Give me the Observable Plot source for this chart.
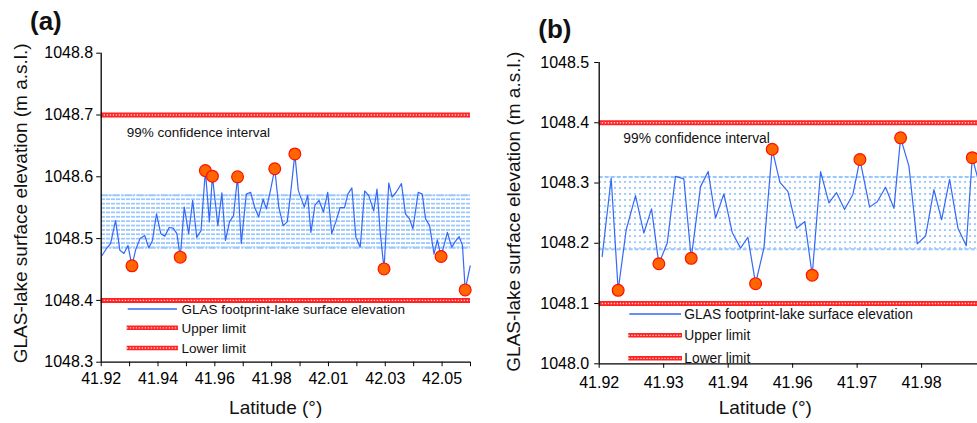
<!DOCTYPE html>
<html><head><meta charset="utf-8">
<script src="https://cdn.jsdelivr.net/npm/d3@7"></script>
<script src="https://cdn.jsdelivr.net/npm/@observablehq/plot@0.6"></script>
<style>
html,body{margin:0;padding:0;background:#fff;}
body{width:977px;height:423px;overflow:hidden;position:relative;font-family:"Liberation Sans",Arial,sans-serif;}
.panel{position:absolute;top:0;height:423px;overflow:hidden;}
.panel svg{display:block;max-width:none;}
</style></head><body>
<div id="pa" class="panel" style="left:0;width:490px"></div>
<div id="pb" class="panel" style="left:490px;width:487px"></div>
<script>
// ---------- Panel (a) data ----------
const latA = [41.92038, 41.92202, 41.92354, 41.92544, 41.92708, 41.9286, 41.93012, 41.93164, 41.93305, 41.93469,
  41.93648, 41.938, 41.9394, 41.94093, 41.94256, 41.94409, 41.94572, 41.94724, 41.94865, 41.94991,
  41.95143, 41.9531, 41.95463, 41.95615, 41.95778, 41.95942, 41.96094, 41.96208, 41.96414, 41.96566,
  41.96703, 41.96855, 41.97007, 41.9716, 41.973, 41.97491, 41.97654, 41.97806, 41.97959, 41.98126,
  41.98252, 41.98415, 41.98567, 41.9872, 41.98887, 41.99039, 41.99165, 41.99328, 41.99458, 41.99686,
  41.99812, 41.99937, 42.00089, 42.00242, 42.00409, 42.00573, 42.00725, 42.00877, 42.01041, 42.01208,
  42.01334, 42.01486, 42.01638, 42.01802, 42.01969, 42.02121, 42.02312, 42.02437, 42.02563, 42.02703,
  42.02882, 42.03008, 42.0316, 42.03362, 42.03514, 42.03666, 42.03796, 42.03997, 42.04149, 42.04275,
  42.04427, 42.04595, 42.0472, 42.04861, 42.05101, 42.05264, 42.05394, 42.05546, 42.05671, 42.05774, 42.05964];
const elevA = [1048.473, 1048.484, 1048.492, 1048.529, 1048.481, 1048.476, 1048.489, 1048.456, 1048.482, 1048.5,
  1048.505, 1048.485, 1048.497, 1048.54, 1048.508, 1048.504, 1048.518, 1048.517, 1048.508, 1048.47,
  1048.551, 1048.508, 1048.562, 1048.502, 1048.513, 1048.61, 1048.527, 1048.601, 1048.521, 1048.574,
  1048.497, 1048.527, 1048.537, 1048.6, 1048.492, 1048.572, 1048.575, 1048.551, 1048.535, 1048.564,
  1048.548, 1048.58, 1048.613, 1048.551, 1048.521, 1048.527, 1048.572, 1048.637, 1048.578, 1048.551,
  1048.57, 1048.51, 1048.554, 1048.562, 1048.543, 1048.575, 1048.508, 1048.527, 1048.55, 1048.55,
  1048.572, 1048.582, 1048.502, 1048.486, 1048.577, 1048.57, 1048.545, 1048.58, 1048.508, 1048.451,
  1048.59, 1048.567, 1048.575, 1048.589, 1048.54, 1048.532, 1048.516, 1048.575, 1048.572, 1048.532,
  1048.521, 1048.475, 1048.498, 1048.471, 1048.51, 1048.486, 1048.495, 1048.503, 1048.489, 1048.417, 1048.456];
const outIdxA = [7, 19, 25, 27, 33, 42, 47, 69, 83, 89];
const limitsA = [1048.4, 1048.7];
const bandA = [1048.485, 1048.57];
const xDomainA = [41.92, 42.05975];
const yDomainA = [1048.3, 1048.8];
const xTicksA = [41.92, 41.9415, 41.963, 41.9845, 42.006, 42.0275, 42.049];
const xTickLabelsA = ["41.92", "41.94", "41.96", "41.98", "42.01", "42.03", "42.05"];
const xMinorA = [41.93075, 41.95225, 41.97375, 41.99525, 42.01675, 42.03825, 42.05975];
const yTicksA = [1048.3, 1048.4, 1048.5, 1048.6, 1048.7, 1048.8];

// ---------- Panel (b) data ----------
const latB = [41.92055, 41.92223, 41.92353, 41.92502, 41.92676, 41.92831, 41.92974, 41.9311, 41.93265, 41.9342,
  41.93575, 41.93712, 41.93886, 41.94028, 41.94165, 41.9432, 41.94475, 41.9463, 41.94767, 41.9491,
  41.95065, 41.9522, 41.95363, 41.95511, 41.95673, 41.95828, 41.95964, 41.9612, 41.96275, 41.96417,
  41.96566, 41.96721, 41.96852, 41.97032, 41.97174, 41.97329, 41.97485, 41.97609, 41.97764, 41.97919,
  41.98074, 41.98229, 41.98372, 41.98521, 41.98676, 41.98831, 41.98943, 41.99036];
const elevB = [1048.178, 1048.308, 1048.122, 1048.222, 1048.279, 1048.217, 1048.257, 1048.166, 1048.2, 1048.311,
  1048.307, 1048.175, 1048.294, 1048.319, 1048.242, 1048.282, 1048.218, 1048.192, 1048.21, 1048.133,
  1048.192, 1048.356, 1048.301, 1048.286, 1048.225, 1048.236, 1048.147, 1048.319, 1048.267, 1048.284,
  1048.256, 1048.281, 1048.339, 1048.26, 1048.269, 1048.293, 1048.258, 1048.375, 1048.328, 1048.199,
  1048.212, 1048.289, 1048.239, 1048.306, 1048.225, 1048.196, 1048.342, 1048.311];
const outIdxB = [2, 7, 11, 19, 21, 26, 32, 37, 46];
const limitsB = [1048.1, 1048.4];
const bandB = [1048.19, 1048.31];
const xDomainB = [41.92, 41.9904];
const yDomainB = [1048.0, 1048.5];
const xTicksB = [41.92, 41.932, 41.944, 41.956, 41.968, 41.98];
const xTickLabelsB = ["41.92", "41.93", "41.94", "41.96", "41.97", "41.98"];
const yTicksB = [1048.0, 1048.1, 1048.2, 1048.3, 1048.4, 1048.5];

// ---------- Texts ----------
const yLabel = "GLAS-lake surface elevation (m a.s.l.)";
const xLabel = "Latitude (°)";
const ciLabel = "99% confidence interval";
const legendLabels = ["GLAS footprint-lake surface elevation", "Upper limit", "Lower limit"];

const FONT = '"Liberation Sans", Arial, sans-serif';
const BLUE = "#3568f5", LIGHT = "#99c8ff", RED = "#ff2323", PINK = "#ffc6c6";

function drawPanel(c) {
  const pts = c.lat.map((x, i) => ({x, y: c.elev[i]}));
  const outs = c.outIdx.map(i => pts[i]);
  const marks = [
    Plot.rect([c.band], {x1: () => c.xDomain[0], x2: () => c.xDomain[1], y1: d => d[0], y2: d => d[1], fill: `url(#${c.id}-pat)`}),
    Plot.ruleY(c.band, {y: d => d, stroke: LIGHT, strokeWidth: 2, strokeDasharray: c.edgeDash}),
    Plot.ruleY(c.limits, {y: d => d, stroke: RED, strokeWidth: 5}),
    Plot.ruleY(c.limits, {y: d => d, stroke: PINK, strokeWidth: 1.4, strokeDasharray: "1.4,1.6"}),
    Plot.line(pts, {x: "x", y: "y", stroke: BLUE, strokeWidth: 1.2}),
    Plot.dot(outs, {x: "x", y: "y", r: 5.9, fill: "#ff6600", stroke: "#ff1000", strokeWidth: 1.2}),
    Plot.ruleX([c.xDomain[0]], {stroke: "#000", strokeWidth: 1.3}),
    Plot.ruleY([c.yDomain[0]], {stroke: "#000", strokeWidth: 1.3}),
    Plot.axisY(c.yTicks, {tickSize: 4.5, tickPadding: c.yPad, fontSize: 16, tickFormat: d3.format(".1f"), label: null, stroke: "#000", fill: "#000"}),
    Plot.axisX(c.xTicks, {tickSize: 4.5, tickPadding: c.xPad, fontSize: 16, tickFormat: d => c.xTickLabels[c.xTicks.indexOf(d)], label: null, stroke: "#000", fill: "#000"})
  ];
  if (c.xMinor) marks.push(Plot.axisX(c.xMinor, {tickSize: 4.5, tickFormat: () => "", label: null, stroke: "#000"}));
  const svg = Plot.plot({
    width: c.width, height: 423,
    marginLeft: c.ml, marginRight: c.mr, marginTop: c.mt, marginBottom: c.mb,
    x: {domain: c.xDomain}, y: {domain: c.yDomain},
    style: {fontFamily: FONT, background: "#fff", color: "#000", overflow: "hidden"},
    marks
  });
  const ys = svg.scale("y");
  const top = ys.apply(c.band[1]), bot = ys.apply(c.band[0]);
  const ph = (bot - top) / c.rows;
  const s = d3.select(svg);
  s.insert("defs", ":first-child").html(
    `<pattern id="${c.id}-pat" patternUnits="userSpaceOnUse" x="${Math.round(c.ml)}" y="${Math.round(top - 1)}" width="${c.pw}" height="${ph}">` +
    `<rect x="0" y="0" width="${c.dw}" height="2" fill="${LIGHT}" shape-rendering="crispEdges"/></pattern>`);
  const g = s.append("g").attr("font-family", FONT).attr("fill", "#111").attr("text-anchor", "start");
  // title
  g.append("text").attr("x", c.title.x).attr("y", c.title.y).attr("font-size", 26).attr("font-weight", "bold").text(c.title.t);
  // axis labels
  g.append("text").attr("transform", `translate(${c.ylab.x},${c.ylab.y}) rotate(-90)`).attr("text-anchor", "middle")
    .attr("dominant-baseline", "central").attr("font-size", 19).text(yLabel);
  g.append("text").attr("x", c.xlab.x).attr("y", c.xlab.y).attr("text-anchor", "middle").attr("font-size", 19).text(xLabel);
  // confidence interval label
  g.append("text").attr("x", c.ci.x).attr("y", c.ci.y).attr("font-size", c.fs).text(ciLabel);
  // legend
  const L = c.legend;
  g.append("line").attr("x1", L.x1).attr("x2", L.x2).attr("y1", L.ys[0]).attr("y2", L.ys[0]).attr("stroke", BLUE).attr("stroke-width", 1.5);
  for (let k = 1; k < 3; k++) {
    g.append("line").attr("x1", L.x1 - 1).attr("x2", L.x2 + 1).attr("y1", L.ys[k]).attr("y2", L.ys[k]).attr("stroke", RED).attr("stroke-width", 4.4);
    g.append("line").attr("x1", L.x1 - 1).attr("x2", L.x2 + 1).attr("y1", L.ys[k]).attr("y2", L.ys[k]).attr("stroke", PINK).attr("stroke-width", 1.3).attr("stroke-dasharray", "1.4,1.6");
  }
  legendLabels.forEach((t, k) => {
    g.append("text").attr("x", L.tx).attr("y", L.ys[k] + L.off).attr("font-size", c.fs).text(t);
  });
  document.getElementById(c.id).appendChild(svg);
}

drawPanel({
  id: "pa", lat: latA, elev: elevA, outIdx: outIdxA, limits: limitsA, band: bandA,
  xDomain: xDomainA, yDomain: yDomainA, xTicks: xTicksA, xTickLabels: xTickLabelsA, xMinor: xMinorA, yTicks: yTicksA,
  width: 490, ml: 100.7, mr: 20, mt: 52.7, mb: 61.3, xPad: 6, yPad: 3.5,
  edgeDash: "7,1.5,2,1.5", rows: 12, pw: 5, dw: 3.5, fs: 13.5,
  title: {x: 30, y: 29.5, t: "(a)"},
  ylab: {x: 20, y: 203.3}, xlab: {x: 275.7, y: 413.5},
  ci: {x: 126.7, y: 136.5},
  legend: {x1: 127.7, x2: 177, tx: 181.5, ys: [309, 327.8, 348], off: 4.8}
});
drawPanel({
  id: "pb", lat: latB, elev: elevB, outIdx: outIdxB, limits: limitsB, band: bandB,
  xDomain: xDomainB, yDomain: yDomainB, xTicks: xTicksB, xTickLabels: xTickLabelsB, xMinor: null, yTicks: yTicksB,
  width: 487, ml: 108.7, mr: 0, mt: 62, mb: 59.7, xPad: 8, yPad: 5.5,
  edgeDash: "4,2", rows: 12, pw: 5, dw: 2, fs: 13.8,
  title: {x: 48.3, y: 38, t: "(b)"},
  ylab: {x: 23.3, y: 211.7}, xlab: {x: 275.3, y: 413.5},
  ci: {x: 133.3, y: 142.5},
  legend: {x1: 139.3, x2: 191, tx: 194.3, ys: [314, 335.3, 358.3], off: 5}
});
</script>
</body></html>
